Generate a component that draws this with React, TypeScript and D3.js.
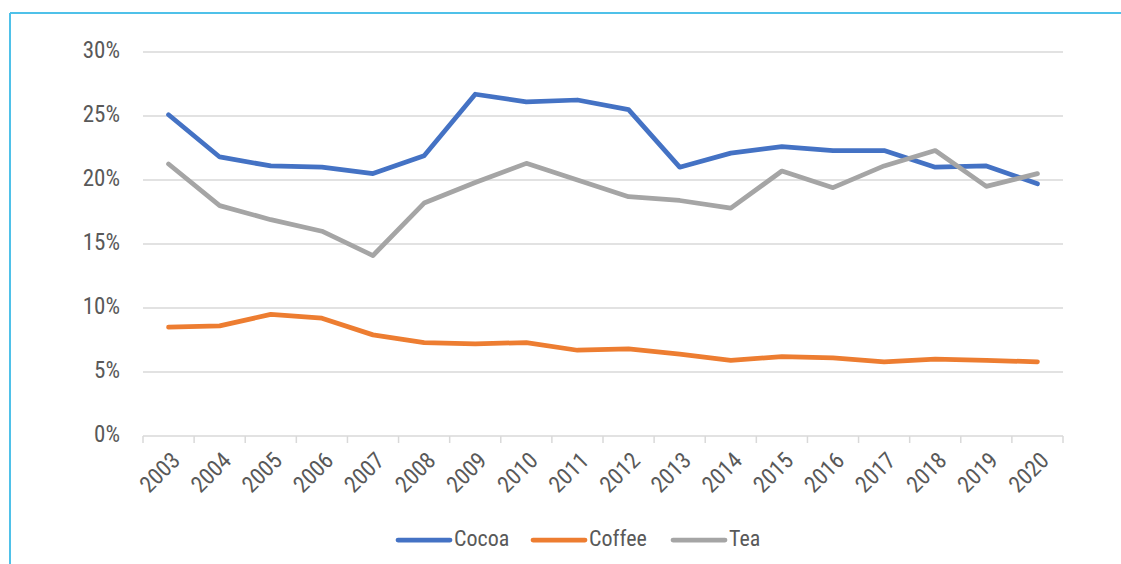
import * as d3 from "d3";

const years = [
  "2003", "2004", "2005", "2006", "2007", "2008", "2009", "2010", "2011",
  "2012", "2013", "2014", "2015", "2016", "2017", "2018", "2019", "2020",
];
const cocoa = [25.1, 21.8, 21.1, 21.0, 20.5, 21.9, 26.7, 26.1, 26.25, 25.5, 21.0, 22.1, 22.6, 22.3, 22.3, 21.0, 21.1, 19.7];
const coffee = [8.5, 8.6, 9.5, 9.2, 7.9, 7.3, 7.2, 7.3, 6.7, 6.8, 6.4, 5.9, 6.2, 6.1, 5.8, 6.0, 5.9, 5.8];
const tea = [21.25, 18.0, 16.9, 16.0, 14.1, 18.2, 19.8, 21.3, 20.0, 18.7, 18.4, 17.8, 20.7, 19.4, 21.1, 22.3, 19.5, 20.5];
const yTicks = [0, 5, 10, 15, 20, 25, 30];

const series = [
  { name: "Cocoa", values: cocoa, color: "#4472C4" },
  { name: "Coffee", values: coffee, color: "#ED7D31" },
  { name: "Tea", values: tea, color: "#A5A5A5" },
];

const FONT = "'Roboto Condensed', 'Liberation Sans Narrow', 'Arial Narrow', Roboto, sans-serif";

export default function App() {
  const width = 1121;
  const height = 564;
  const margin = { top: 52, right: 58, bottom: 128, left: 143 };

  const x = d3
    .scaleBand()
    .domain(years)
    .range([margin.left, width - margin.right]);
  const y = d3
    .scaleLinear()
    .domain([0, 30])
    .range([height - margin.bottom, margin.top]);

  const line = d3
    .line<number>()
    .x((_, i) => (x(years[i]) ?? 0) + x.bandwidth() / 2)
    .y((d) => y(d));

  const boundaries = years.map((yr) => x(yr) ?? 0).concat([width - margin.right]);
  const legendX = [398, 533, 673];

  return (
    <svg
      width={width}
      height={height}
      style={{ position: "absolute", left: 0, top: 0, background: "#fff" }}
      fontFamily={FONT}
    >
      <line x1={10} x2={width} y1={13} y2={13} stroke="#4FC1E9" strokeWidth={2} />
      <line x1={10} x2={10} y1={13} y2={height} stroke="#4FC1E9" strokeWidth={2} />

      {yTicks.map((t) => (
        <g key={t}>
          <line
            x1={margin.left}
            x2={width - margin.right}
            y1={y(t)}
            y2={y(t)}
            stroke="#D9D9D9"
            strokeWidth={1.5}
          />
          <text
            x={120}
            y={y(t)}
            textAnchor="end"
            dominantBaseline="middle"
            fontSize={23}
            fill="#595959"
          >
            {t}%
          </text>
        </g>
      ))}

      {boundaries.map((bx, i) => (
        <line key={i} x1={bx} x2={bx} y1={y(0)} y2={y(0) + 7} stroke="#D9D9D9" strokeWidth={1.5} />
      ))}

      {years.map((yr) => {
        const cx = (x(yr) ?? 0) + x.bandwidth() / 2 + 1;
        const cy = y(0) + 14;
        return (
          <text
            key={yr}
            transform={`translate(${cx},${cy}) rotate(-45)`}
            textAnchor="end"
            dominantBaseline="hanging"
            fontSize={23}
            fill="#595959"
          >
            {yr}
          </text>
        );
      })}

      {series.map((s) => (
        <path
          key={s.name}
          d={line(s.values) ?? ""}
          fill="none"
          stroke={s.color}
          strokeWidth={4.75}
          strokeLinejoin="round"
          strokeLinecap="round"
        />
      ))}

      {series.map((s, i) => (
        <g key={s.name}>
          <line
            x1={legendX[i]}
            x2={legendX[i] + 52}
            y1={540}
            y2={540}
            stroke={s.color}
            strokeWidth={4.75}
            strokeLinecap="round"
          />
          <text x={legendX[i] + 56} y={540} dominantBaseline="middle" fontSize={22} fill="#595959">
            {s.name}
          </text>
        </g>
      ))}
    </svg>
  );
}
